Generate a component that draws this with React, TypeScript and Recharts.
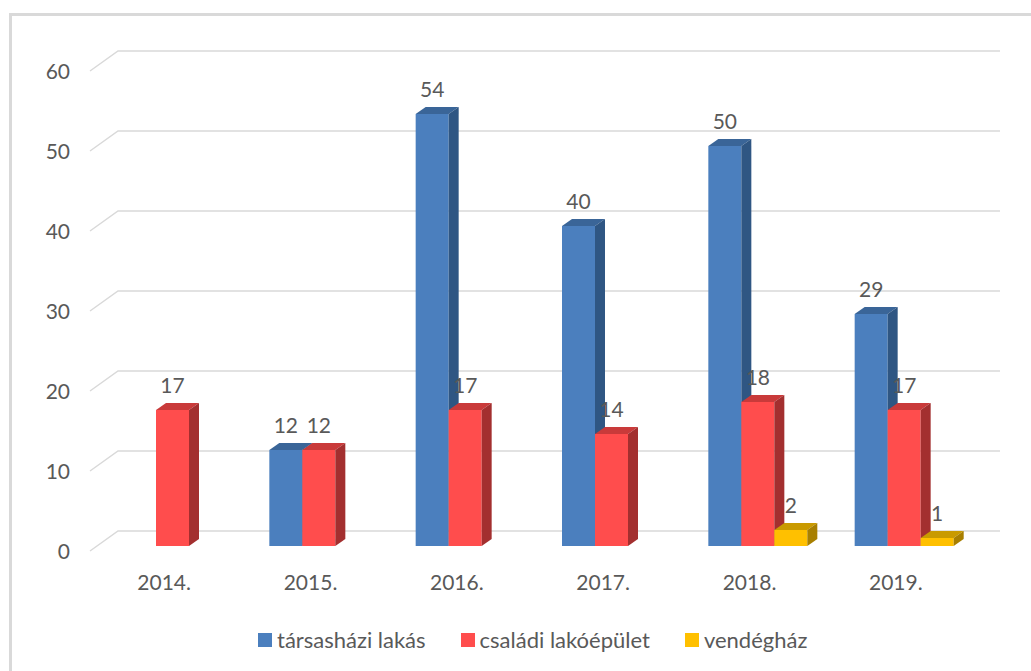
import React from "react";
import { BarChart, Bar, XAxis, YAxis, CartesianGrid } from "recharts";

const years = ["2014.", "2015.", "2016.", "2017.", "2018.", "2019."];
const tarsashazi = [null, 12, 54, 40, 50, 29];
const csaladi = [17, 12, 17, 14, 18, 17];
const vendeghaz = [null, null, null, null, 2, 1];
const yTicks = [0, 10, 20, 30, 40, 50, 60];

const seriesNames = ["társasházi lakás", "családi lakóépület", "vendégház"];

// front, top, side shades for each series
const palette = [
  { front: "#4b7fbe", top: "#3a6598", side: "#2f5683" },
  { front: "#ff4d4d", top: "#c93a3a", side: "#a32f2f" },
  { front: "#ffc000", top: "#c99a00", side: "#a87f00" },
];

const data = years.map((year, i) => ({
  year,
  tarsashazi: tarsashazi[i],
  csaladi: csaladi[i],
  vendeghaz: vendeghaz[i],
}));

const FONT = "Lato, 'Open Sans', sans-serif";
const TEXT = "#595959";
const DX = 10;
const DY = 7;

function makeShape(c: { front: string; top: string; side: string }) {
  return (props: any) => {
    const { x, y, width, height, value } = props;
    if (value == null || !height || height <= 0) return <g />;
    const r = x + width;
    const b = y + height;
    return (
      <g>
        <rect x={x} y={y} width={width} height={height} fill={c.front} />
        <polygon
          points={`${x},${y} ${x + DX},${y - DY} ${r + DX},${y - DY} ${r},${y}`}
          fill={c.top}
        />
        <polygon
          points={`${r},${y} ${r + DX},${y - DY} ${r + DX},${b - DY} ${r},${b}`}
          fill={c.side}
        />
      </g>
    );
  };
}

const renderLabel = (props: any) => {
  const { x, y, width, value } = props;
  if (value == null) return <g />;
  return (
    <text
      x={x + width / 2}
      y={y - 17}
      textAnchor="middle"
      fontFamily={FONT}
      fontSize={21}
      fill={TEXT}
    >
      {value}
    </text>
  );
};

const gridLine = (props: any) => {
  const { x1, x2, y1, index } = props;
  const d = `M${x1 - 9},${y1 + 5} L${x1 + 19},${y1 - 15} L${x2 + 23},${y1 - 15}`;
  return (
    <path key={`g-${index}`} d={d} fill="none" stroke="#d9d9d9" strokeWidth={1.5} />
  );
};

const YTick = (props: any) => {
  const { x, y, payload } = props;
  return (
    <text x={x - 29} y={y + 13} textAnchor="end" fontFamily={FONT} fontSize={21} fill={TEXT}>
      {payload.value}
    </text>
  );
};

const XTick = (props: any) => {
  const { x, y, payload } = props;
  return (
    <text x={x - 8} y={y + 44} textAnchor="middle" fontFamily={FONT} fontSize={21} fill={TEXT}>
      {payload.value}
    </text>
  );
};

export default function App() {
  return (
    <div
      style={{
        position: "absolute",
        left: 0,
        top: 0,
        width: 1031,
        height: 671,
        overflow: "hidden",
        background: "#fff",
      }}
    >
      <div
        style={{
          position: "absolute",
          left: 9,
          top: 13,
          width: 1100,
          height: 700,
          borderTop: "3px solid #d9d9d9",
          borderLeft: "3px solid #d9d9d9",
        }}
      />
      <div style={{ position: "absolute", left: 0, top: 0 }}>
        <BarChart
          width={1031}
          height={671}
          data={data}
          margin={{ top: 66, right: 54, bottom: 65, left: 39 }}
          barCategoryGap={24}
          barGap={0}
        >
          <CartesianGrid vertical={false} horizontal={gridLine} />
          <XAxis
            dataKey="year"
            axisLine={false}
            tickLine={false}
            tickSize={0}
            tickMargin={0}
            height={60}
            tick={<XTick />}
          />
          <YAxis
            domain={[0, 60]}
            ticks={yTicks}
            axisLine={false}
            tickLine={false}
            tickSize={0}
            tickMargin={0}
            width={60}
            tick={<YTick />}
          />
          <Bar
            dataKey="tarsashazi"
            name={seriesNames[0]}
            fill={palette[0].front}
            shape={makeShape(palette[0])}
            label={renderLabel}
            isAnimationActive={false}
          />
          <Bar
            dataKey="csaladi"
            name={seriesNames[1]}
            fill={palette[1].front}
            shape={makeShape(palette[1])}
            label={renderLabel}
            isAnimationActive={false}
          />
          <Bar
            dataKey="vendeghaz"
            name={seriesNames[2]}
            fill={palette[2].front}
            shape={makeShape(palette[2])}
            label={renderLabel}
            isAnimationActive={false}
          />
        </BarChart>
      </div>
      <div
        style={{
          position: "absolute",
          left: 258,
          top: 627,
          display: "flex",
          alignItems: "center",
          gap: 35,
          fontFamily: FONT,
          fontSize: 22,
          color: TEXT,
          lineHeight: "26px",
        }}
      >
        {seriesNames.map((name, i) => (
          <div key={name} style={{ display: "flex", alignItems: "center", gap: 5 }}>
            <span
              style={{
                display: "inline-block",
                width: 14,
                height: 14,
                background: palette[i].front,
              }}
            />
            <span>{name}</span>
          </div>
        ))}
      </div>
    </div>
  );
}
